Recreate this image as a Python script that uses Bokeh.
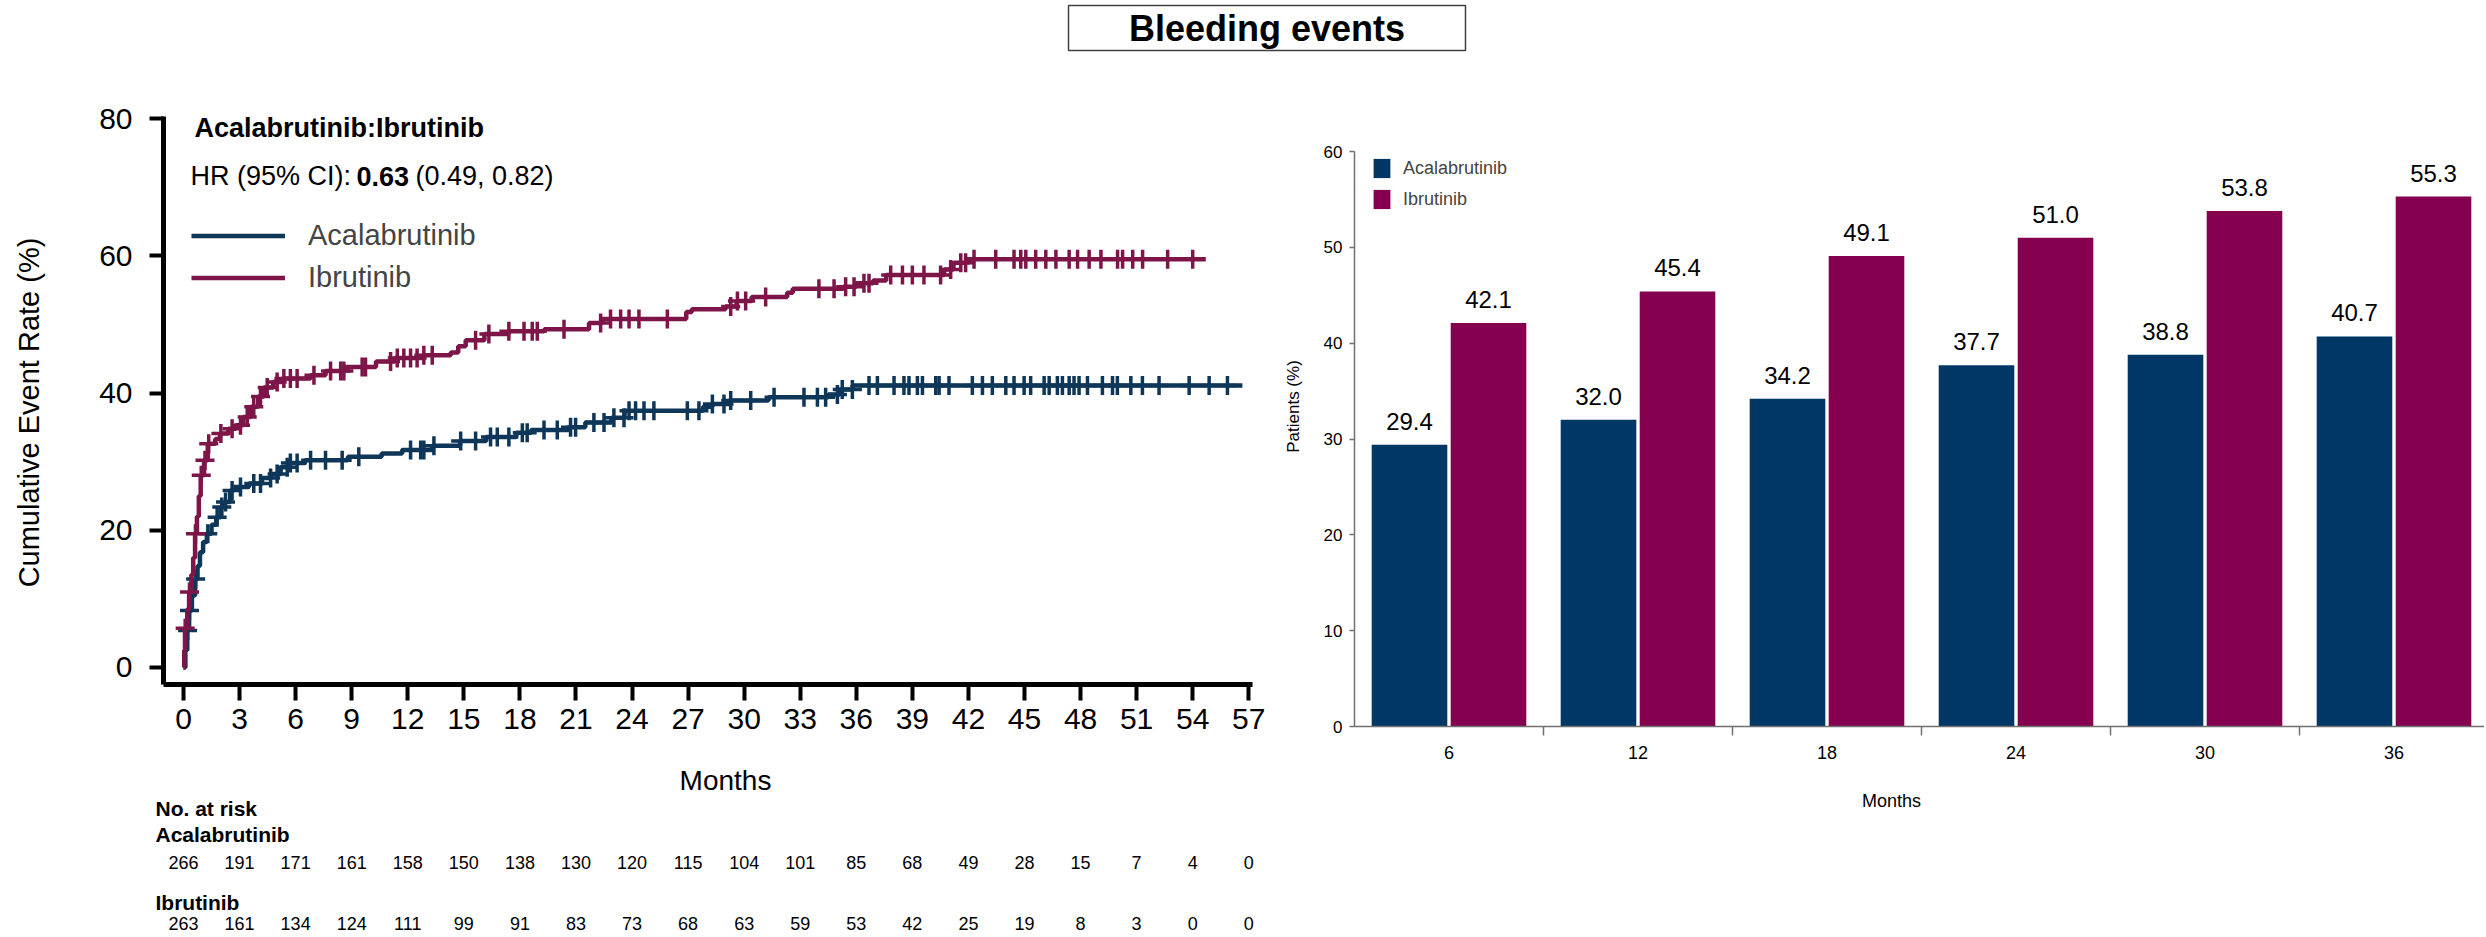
import numpy as np
from bokeh.plotting import figure
from bokeh.models import (Range1d, FixedTicker, Label, Legend, LegendItem,
                          ColumnDataSource, LabelSet, Spacer)
from bokeh.layouts import row, column
from bokeh.embed import file_html
from bokeh.resources import INLINE
from bokeh.core.properties import value
from bokeh.transform import dodge

FONT = "Liberation Sans"
KM_NAVY = "#0e3659"
KM_MAG = "#7e1549"
BAR_NAVY = "#003764"
BAR_MAG = "#85004e"

# ---------------- Kaplan-Meier style cumulative incidence data ----------------
acala_t = [0, 0.1, 0.2, 0.3, 0.45, 0.62, 0.75, 0.88, 1.05, 1.25, 1.5, 1.75, 2.0, 2.2, 2.5,
           2.7, 3.5, 4.2, 4.7, 5.2, 5.6, 6.5, 8.8, 10.6, 11.7, 13.3, 14.8, 16.2, 17.8, 18.6,
           20.6, 21.5, 22.9, 23.6, 27.8, 28.3, 29.2, 31.3, 34.5, 35.1, 35.8]
acala_v = [0, 2.5, 5.4, 8.3, 10.5, 12.9, 14.8, 16.8, 18.3, 19.5, 20.8, 21.9, 23.4, 24.1, 25.8,
           26.3, 26.8, 27.6, 28.2, 29.2, 29.8, 30.2, 30.7, 31.2, 31.7, 32.3, 33.0, 33.6, 34.2, 34.6,
           35.0, 35.7, 36.4, 37.4, 38.0, 38.4, 38.9, 39.4, 39.8, 40.5, 41.1]
acala_end = 56.66
acala_censor = [0.22, 0.32, 0.65, 1.3, 1.8, 2.05, 2.25, 2.6, 3.05, 3.76, 4.12, 4.66, 5.01, 5.55,
                5.72, 6.08, 6.8, 7.6, 8.49, 9.38, 12.15, 12.69,
                12.86, 13.4, 14.83, 15.63, 16.43, 16.79, 17.41, 18.13, 18.39, 19.29, 20.0, 20.71,
                20.98, 21.96, 22.5, 23.03, 23.57, 23.84, 24.19, 24.64, 25.17, 26.96, 27.58, 28.3,
                28.92, 29.28, 30.35, 31.6, 33.2, 33.92, 34.36, 34.99,
                35.25, 35.79, 36.68, 37.13, 38.02, 38.55, 38.82, 39.27, 39.54, 40.25, 40.43, 40.96,
                42.21, 42.75, 43.28, 44.0, 44.44, 44.98, 45.33, 46.05, 46.32, 46.76, 47.03, 47.39,
                47.65, 47.92, 48.37, 49.17, 49.71, 49.97, 50.69, 51.31, 52.2, 53.81, 54.88, 55.86]

ibru_t = [0, 0.04, 0.08, 0.2, 0.3, 0.42, 0.52, 0.62, 0.72, 0.82, 0.92, 1.1, 1.3, 1.7, 1.95,
          2.4, 2.8, 3.2, 3.6, 4.0, 4.3, 4.8, 5.3, 6.8, 7.6, 8.6, 10.3, 11.3, 12.8, 14.3,
          14.7, 15.1, 16.1, 17.4, 19.3, 21.7, 22.4, 26.9, 27.2, 29.0, 29.6, 30.4, 32.3, 32.6,
          35.3, 36.0, 36.9, 37.6, 40.7, 41.2, 41.9]
ibru_v = [0, 2.5, 5.7, 8.5, 11.0, 13.5, 16.0, 19.5, 22.0, 25.0, 28.0, 30.2, 32.6, 33.3, 34.1,
          34.8, 35.3, 36.5, 38.0, 39.5, 40.8, 41.6, 42.1, 42.6, 43.2, 43.8, 44.6, 45.1, 45.5, 45.9,
          46.8, 47.7, 48.6, 49.0, 49.3, 50.2, 50.8, 51.8, 52.2, 52.6, 53.4, 54.0, 54.6, 55.2,
          55.5, 56.0, 56.4, 57.2, 58.0, 59.0, 59.5]
ibru_end = 54.7
ibru_censor = [0.09, 0.32, 0.64, 0.95, 1.15, 1.35, 2.0,
               2.6, 3.05, 3.41, 3.76, 4.12, 4.48, 5.01, 5.37, 5.72, 6.08, 6.98, 7.87, 8.41, 8.58,
               9.56, 9.74, 11.08, 11.44, 11.79, 12.15, 12.5, 12.86,
               13.31, 15.63, 16.34, 17.41, 18.22, 18.66, 18.93, 20.36, 22.32, 22.85, 23.39, 23.84,
               24.37, 25.89, 29.28, 29.64, 30.08, 31.15, 34.0, 34.81,
               35.43, 35.88, 36.41, 36.68, 37.84, 38.47, 39.0, 39.62, 40.51, 41.05, 41.59, 41.85,
               42.3, 43.46, 44.44, 44.8, 45.07, 45.6, 46.14, 46.68, 47.39, 47.84, 48.46, 49.09,
               49.98, 50.25, 50.79, 51.32, 52.66, 54.0]

risk_months = list(range(0, 58, 3))
risk_acala = [266, 191, 171, 161, 158, 150, 138, 130, 120, 115, 104, 101, 85, 68, 49, 28, 15, 7, 4, 0]
risk_ibru = [263, 161, 134, 124, 111, 99, 91, 83, 73, 68, 63, 59, 53, 42, 25, 19, 8, 3, 0, 0]

# ---------------- bar chart data ----------------
bar_months = ["6", "12", "18", "24", "30", "36"]
bar_acala = [29.4, 32.0, 34.2, 37.7, 38.8, 40.7]
bar_ibru = [42.1, 45.4, 49.1, 51.0, 53.8, 55.3]


def km_at(times, vals, t):
    idx = np.searchsorted(np.asarray(times), np.asarray(t), side="right") - 1
    return np.asarray(vals)[idx]


def style_axis(ax, size):
    ax.major_label_text_font = FONT
    ax.major_label_text_font_size = size
    ax.major_label_text_color = "black"
    ax.axis_label_text_font = FONT
    ax.axis_label_text_font_style = "normal"
    ax.axis_label_text_color = "black"


def text_panel(w, h):
    """A bare figure whose frame is the whole panel, used to hold free text."""
    f = figure(frame_width=w, frame_height=h, x_range=Range1d(0, w), y_range=Range1d(0, h),
               min_border=0, x_axis_location=None, y_axis_location=None,
               output_backend="svg", toolbar_location=None, tools="", frame_align=False)
    f.grid.visible = False
    f.outline_line_color = None
    return f


ROW_TOP = 58
PANEL_H = 700
PAGE_BOTTOM = 934

# ---------------- title ----------------
tfig = figure(frame_width=397, frame_height=45, x_range=Range1d(0, 1), y_range=Range1d(0, 1),
              min_border_left=2, min_border_right=2, min_border_top=5, min_border_bottom=8,
              x_axis_location=None, y_axis_location=None, output_backend="svg",
              toolbar_location=None, tools="", frame_align=False)
tfig.grid.visible = False
tfig.outline_line_color = "#404040"
tfig.outline_line_width = 1.5
tfig.add_layout(Label(x=0.5, y=0.5, text="Bleeding events", text_align="center",
                      text_baseline="middle", text_font=FONT, text_font_style="bold",
                      text_font_size="36px", text_color="black"))

# ---------------- KM y-axis title panel ----------------
YLAB_W = 52
ylab = text_panel(YLAB_W, PANEL_H)
ylab.text(x=[28], y=[PANEL_H - (412 - ROW_TOP)], text=["Cumulative Event Rate (%)"],
          angle=np.pi / 2, text_align="center", text_baseline="middle",
          text_font=value(FONT), text_font_size="29px", text_color="black")

# ---------------- KM figure ----------------
KM_W = 1270 - YLAB_W
KM_BOTTOM_BORDER = 64
km = figure(frame_width=1089, frame_height=568, x_range=Range1d(-1.07, 57.2),
            y_range=Range1d(-2.48, 80.3), min_border_left=163 - YLAB_W, min_border_right=18,
            min_border_top=58, min_border_bottom=KM_BOTTOM_BORDER, output_backend="svg",
            toolbar_location=None, tools="", frame_align=False)
km.grid.visible = False
km.outline_line_color = None

r_a = km.step(acala_t + [acala_end], acala_v + [acala_v[-1]], mode="after",
              line_color=KM_NAVY, line_width=4.5)
km.scatter(acala_censor, km_at(acala_t, acala_v, acala_censor), marker="cross", size=19,
           line_color=KM_NAVY, line_width=3.5)
r_i = km.step(ibru_t + [ibru_end], ibru_v + [ibru_v[-1]], mode="after",
              line_color=KM_MAG, line_width=4.5)
km.scatter(ibru_censor, km_at(ibru_t, ibru_v, ibru_censor), marker="cross", size=19,
           line_color=KM_MAG, line_width=3.5)

km.xaxis.ticker = FixedTicker(ticks=risk_months)
km.yaxis.ticker = FixedTicker(ticks=[0, 20, 40, 60, 80])
for ax in (km.xaxis[0], km.yaxis[0]):
    style_axis(ax, "30px")
    ax.axis_line_width = 5
    ax.axis_line_color = "black"
    ax.major_tick_line_width = 4
    ax.major_tick_line_color = "black"
    ax.major_tick_in = 0
    ax.minor_tick_line_color = None
km.xaxis.major_tick_out = 16
km.yaxis.major_tick_out = 14
km.xaxis.major_label_standoff = 8
km.yaxis.major_label_standoff = 17

legend = Legend(items=[LegendItem(label="Acalabrutinib", renderers=[r_a]),
                       LegendItem(label="Ibrutinib", renderers=[r_i])],
                location=(28, 390), glyph_width=94, glyph_height=33, label_height=33,
                spacing=9, padding=0, margin=0, label_standoff=23,
                label_text_font=FONT, label_text_font_size="29px",
                border_line_color=None, background_fill_alpha=0)
km.add_layout(legend)

km.add_layout(Label(x=0.59, y=78.6, text="Acalabrutinib:Ibrutinib", text_font=FONT,
                    text_font_style="bold", text_font_size="27px", text_baseline="middle",
                    text_color="black"))
hr_x, hr_y = 0.375, 71.6
km.add_layout(Label(x=hr_x, y=hr_y, text="HR (95% CI):", text_font=FONT,
                    text_font_size="27px", text_baseline="middle", text_color="black"))
km.add_layout(Label(x=hr_x, y=hr_y, x_offset=166, text="0.63", text_font=FONT,
                    text_font_style="bold", text_font_size="27px", text_baseline="middle",
                    text_color="black"))
km.add_layout(Label(x=hr_x, y=hr_y, x_offset=225, text="(0.49, 0.82)", text_font=FONT,
                    text_font_size="27px", text_baseline="middle", text_color="black"))

# ---------------- x-axis title + number at risk table (same month scale) ----------------
px_per_month = 1089 / (57.2 + 1.07)
x0_px = (163 - YLAB_W) + 1.07 * px_per_month  # pixel of month 0 within the KM figure
risk_top = ROW_TOP + 58 + 568 + KM_BOTTOM_BORDER
RISK_H = PAGE_BOTTOM - risk_top
risk = figure(frame_width=KM_W, frame_height=RISK_H,
              x_range=Range1d(-x0_px / px_per_month, (KM_W - x0_px) / px_per_month),
              y_range=Range1d(0, RISK_H), min_border=0, x_axis_location=None,
              y_axis_location=None, output_backend="svg", toolbar_location=None, tools="",
              frame_align=False)
risk.grid.visible = False
risk.outline_line_color = None


def ry(page_y):
    return PAGE_BOTTOM - page_y


risk.text(x=[29.0], y=[ry(780)], text=["Months"], text_align="center", text_baseline="middle",
          text_font=value(FONT), text_font_size="28px", text_color="black")
rsrc = ColumnDataSource(dict(m=risk_months, a=[str(v) for v in risk_acala],
                             i=[str(v) for v in risk_ibru]))
risk.text(x="m", y=ry(862), text="a", source=rsrc, text_align="center", text_baseline="middle",
          text_font=value(FONT), text_font_size="18px", text_color="black")
risk.text(x="m", y=ry(923), text="i", source=rsrc, text_align="center", text_baseline="middle",
          text_font=value(FONT), text_font_size="18px", text_color="black")
risk.text(x=[-1.5, -1.5, -1.5], y=[ry(808), ry(834), ry(902)],
          text=["No. at risk", "Acalabrutinib", "Ibrutinib"],
          text_align="left", text_baseline="middle", text_font=value(FONT),
          text_font_style="bold", text_font_size="21px", text_color="black")

# ---------------- bar chart y-axis title panel ----------------
PAT_W = 46
pat = text_panel(PAT_W, PANEL_H)
pat.text(x=[23], y=[PANEL_H - (406 - ROW_TOP)], text=["Patients (%)"], angle=np.pi / 2,
         text_align="center", text_baseline="middle", text_font=value(FONT),
         text_font_size="17px", text_color="black")

# ---------------- bar chart ----------------
cat_w = 189.0
bar_fw = 1130
BAR_LEFT = 1354 - 1270 - PAT_W
bar = figure(frame_width=bar_fw, frame_height=575, x_range=Range1d(0, bar_fw / cat_w),
             y_range=Range1d(0, 60), min_border_left=BAR_LEFT, min_border_right=0,
             min_border_top=93, min_border_bottom=40, output_backend="svg",
             toolbar_location=None, tools="", frame_align=False)
bar.grid.visible = False
bar.outline_line_color = None

src = ColumnDataSource(dict(xc=np.arange(len(bar_months)) + 0.5, month=bar_months,
                            acala=bar_acala, ibru=bar_ibru,
                            la=[f"{v:.1f}" for v in bar_acala],
                            li=[f"{v:.1f}" for v in bar_ibru]))
ra = bar.vbar(x=dodge("xc", -0.209), top="acala", width=0.40, fill_color=BAR_NAVY,
              line_color=None, source=src)
ri = bar.vbar(x=dodge("xc", 0.209), top="ibru", width=0.40, fill_color=BAR_MAG,
              line_color=None, source=src)
for col, key, dx in (("acala", "la", -0.209), ("ibru", "li", 0.209)):
    bar.add_layout(LabelSet(x=dodge("xc", dx), y=col, text=key, source=src,
                            text_align="center", text_baseline="bottom", y_offset=15,
                            text_font=value(FONT), text_font_size="24px", text_color="black"))

bar.xaxis.ticker = FixedTicker(ticks=list(np.arange(len(bar_months)) + 0.5),
                               minor_ticks=list(range(1, len(bar_months))))
bar.xaxis.major_label_overrides = {float(i) + 0.5: m for i, m in enumerate(bar_months)}
bar.yaxis.ticker = FixedTicker(ticks=[0, 10, 20, 30, 40, 50, 60])
for ax in (bar.xaxis[0], bar.yaxis[0]):
    style_axis(ax, "17px")
    ax.axis_line_color = "#707070"
    ax.axis_line_width = 1.5
    ax.major_tick_line_color = "#707070"
    ax.major_tick_line_width = 1.5
    ax.major_tick_in = 0
    ax.minor_tick_in = 0
bar.xaxis.major_tick_out = 0
bar.xaxis.minor_tick_out = 9
bar.xaxis.minor_tick_line_color = "#707070"
bar.xaxis.minor_tick_line_width = 1.5
bar.xaxis.major_label_text_font_size = "18px"
bar.xaxis.major_label_standoff = 10
bar.yaxis.minor_tick_line_color = None
bar.yaxis.major_tick_out = 5
bar.yaxis.major_label_standoff = 7

bleg = Legend(items=[LegendItem(label="Acalabrutinib", renderers=[ra]),
                     LegendItem(label="Ibrutinib", renderers=[ri])],
              location=(17, 515), glyph_width=21, glyph_height=24, label_height=24,
              spacing=7, padding=0, margin=0, label_standoff=11,
              label_text_font=FONT, label_text_font_size="18px",
              border_line_color=None, background_fill_alpha=0)
bar.add_layout(bleg)

# bar chart x-axis title panel
BAR_W = BAR_LEFT + bar_fw
bar_bottom = ROW_TOP + 93 + 575 + 40
BM_H = 60
bmon = text_panel(BAR_W, BM_H)
bmon.text(x=[1891 - 1270 - PAT_W], y=[BM_H - (800 - bar_bottom)], text=["Months"],
          text_align="center", text_baseline="middle", text_font=value(FONT),
          text_font_size="18px", text_color="black")

layout = column(row(Spacer(width=1066, height=ROW_TOP), tfig),
                row(ylab, column(km, risk), pat, column(bar, bmon)))

open("out.html", "w").write(file_html(layout, INLINE))
